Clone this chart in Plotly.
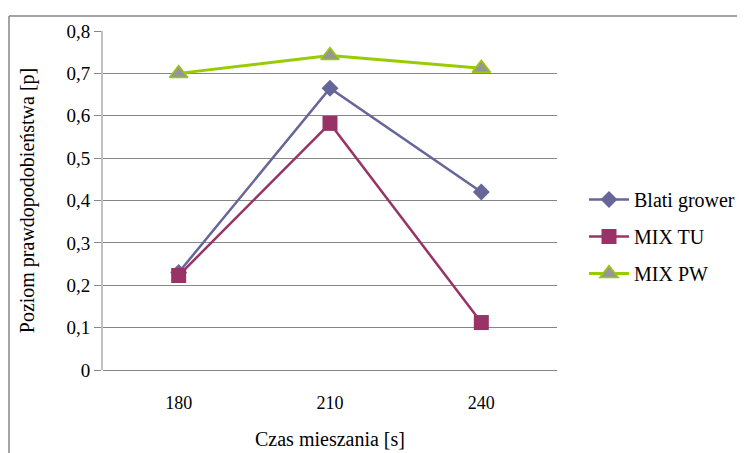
import plotly.graph_objects as go

categories = ["180", "210", "240"]
blati_grower = [0.23, 0.665, 0.42]
mix_tu = [0.223, 0.582, 0.112]
mix_pw = [0.70, 0.742, 0.712]
y_tick_vals = [0, 0.1, 0.2, 0.3, 0.4, 0.5, 0.6, 0.7, 0.8]
y_tick_text = ["0", "0,1", "0,2", "0,3", "0,4", "0,5", "0,6", "0,7", "0,8"]

FONT = "'Liberation Serif', 'Times New Roman', 'DejaVu Serif', serif"

W, H = 737, 445
L, R, T, B = 95, 188, 23, 83
PW, PH = W - L - R, H - T - B

fig = go.Figure()
fig.add_trace(go.Scatter(
    x=categories, y=blati_grower, name="Blati grower", mode="lines+markers",
    legendgroup="a",
    line=dict(color="#666699", width=2.5),
    marker=dict(symbol="diamond", size=13, color="#666699"),
))
fig.add_trace(go.Scatter(
    x=categories, y=mix_tu, name="MIX TU", mode="lines+markers",
    legendgroup="b",
    line=dict(color="#993366", width=2.5),
    marker=dict(symbol="square", size=15, color="#993366"),
))
fig.add_trace(go.Scatter(
    x=categories, y=mix_pw, name="MIX PW", mode="lines+markers",
    legendgroup="c",
    line=dict(color="#99CC00", width=3),
    marker=dict(symbol="triangle-up", size=16, color="#969696",
                line=dict(color="#99CC00", width=1.5)),
))

fx = (1 - L) / PW
fy = (PH + T - 8) / PH

fig.update_layout(
    width=W, height=H,
    margin=dict(l=L, r=R, t=T, b=B, autoexpand=False),
    paper_bgcolor="white", plot_bgcolor="white",
    font=dict(family=FONT, size=18, color="black"),
    showlegend=True,
    legend=dict(xref="container", yref="container",
                x=576 / W, xanchor="left", y=1 - 172 / H, yanchor="top",
                font=dict(family=FONT, size=20), tracegroupgap=8,
                itemwidth=40, bgcolor="rgba(0,0,0,0)"),
    xaxis=dict(
        type="category", range=[-0.5, 2.5], showgrid=False, showline=False,
        zeroline=False, ticks="", tickfont=dict(family=FONT, size=18),
        ticklabelstandoff=20,
        title=dict(text="Czas mieszania [s]", font=dict(family=FONT, size=20), standoff=19),
    ),
    yaxis=dict(
        range=[0, 0.8], tickvals=y_tick_vals, ticktext=y_tick_text,
        showgrid=True, gridcolor="#868686", gridwidth=1,
        zeroline=True, zerolinecolor="#868686", zerolinewidth=1,
        showline=True, linecolor="#c0c0c0", linewidth=2,
        ticks="outside", ticklen=7, tickcolor="#868686",
        tickfont=dict(family=FONT, size=19),
        title=dict(text="Poziom prawdopodobieństwa [p]", font=dict(family=FONT, size=20), standoff=26),
    ),
    shapes=[
        dict(type="line", xref="paper", yref="paper",
             x0=fx, x1=2, y0=fy, y1=fy,
             line=dict(color="#868686", width=1.5)),
        dict(type="line", xref="paper", yref="paper",
             x0=fx, x1=fx, y0=fy, y1=-1,
             line=dict(color="#868686", width=1.5)),
    ],
)

fig.write_html("out.html")
